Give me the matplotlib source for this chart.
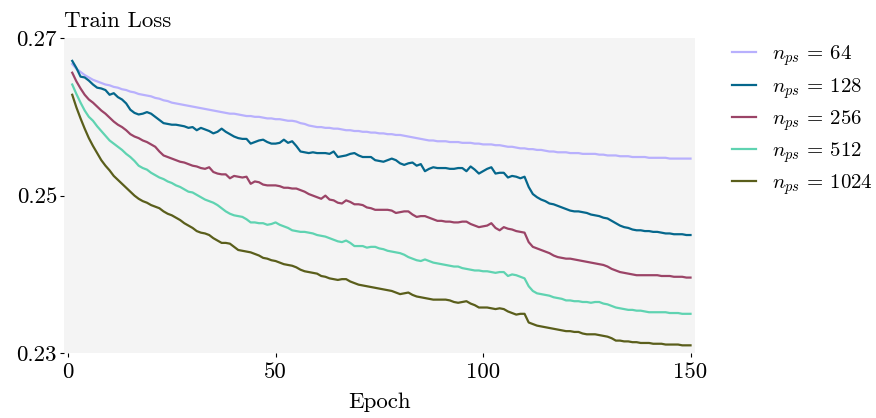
import matplotlib
matplotlib.use("Agg")
import matplotlib.pyplot as plt

plt.rcParams['font.family'] = 'cmr10'
plt.rcParams['mathtext.fontset'] = 'cm'
plt.rcParams['axes.unicode_minus'] = False

epochs = list(range(1, 151))

# train loss per epoch
loss_64 = [
    .2667, .2661, .2657, .2653, .2650, .2647, .2645, .2643, .2641, .2640,
    .2638, .2637, .2635, .2634, .2632, .2631, .2629, .2628, .2627, .2626,
    .2624, .2623, .2621, .2620, .2618, .2617, .2616, .2615, .2614, .2613,
    .2612, .2611, .2610, .2609, .2608, .2607, .2606, .2605, .2604, .2604,
    .2603, .2602, .2601, .2601, .2600, .2600, .2599, .2598, .2598, .2597,
    .2597, .2596, .2595, .2595, .2594, .2592, .2591, .2589, .2588, .2587,
    .2587, .2586, .2586, .2585, .2585, .2584, .2583, .2583, .2582, .2582,
    .2581, .2581, .2580, .2580, .2579, .2579, .2578, .2578, .2577, .2577,
    .2576, .2575, .2574, .2573, .2572, .2571, .2570, .2570, .2569, .2569,
    .2569, .2568, .2568, .2568, .2567, .2567, .2567, .2566, .2566, .2565,
    .2565, .2565, .2564, .2564, .2563, .2562, .2562, .2561, .2560, .2560,
    .2559, .2559, .2558, .2558, .2557, .2556, .2556, .2555, .2555, .2555,
    .2554, .2554, .2554, .2553, .2553, .2553, .2553, .2552, .2552, .2551,
    .2551, .2551, .2550, .2550, .2550, .2549, .2549, .2549, .2549, .2548,
    .2548, .2548, .2548, .2548, .2547, .2547, .2547, .2547, .2547, .2547,
]
loss_128 = [
    .2671, .2662, .2651, .2650, .2646, .2641, .2637, .2636, .2634, .2628,
    .2630, .2625, .2622, .2617, .2609, .2605, .2603, .2604, .2606, .2604,
    .2600, .2596, .2592, .2591, .2590, .2590, .2589, .2588, .2586, .2587,
    .2583, .2586, .2584, .2582, .2579, .2581, .2585, .2581, .2578, .2575,
    .2573, .2572, .2572, .2566, .2568, .2570, .2571, .2568, .2566, .2566,
    .2567, .2571, .2567, .2569, .2563, .2556, .2555, .2554, .2555, .2554,
    .2554, .2554, .2553, .2556, .2549, .2550, .2551, .2553, .2554, .2551,
    .2549, .2549, .2549, .2545, .2544, .2543, .2545, .2547, .2545, .2541,
    .2539, .2541, .2542, .2538, .2540, .2531, .2534, .2536, .2535, .2535,
    .2535, .2534, .2534, .2535, .2535, .2531, .2537, .2533, .2528, .2531,
    .2534, .2536, .2528, .2529, .2529, .2523, .2525, .2524, .2522, .2524,
    .2511, .2502, .2498, .2495, .2493, .2490, .2489, .2487, .2485, .2483,
    .2481, .2480, .2480, .2479, .2478, .2476, .2475, .2474, .2472, .2471,
    .2468, .2465, .2462, .2460, .2459, .2457, .2456, .2456, .2455, .2455,
    .2454, .2454, .2453, .2452, .2452, .2451, .2451, .2451, .2450, .2450,
]
loss_256 = [
    .2656, .2645, .2636, .2628, .2622, .2618, .2613, .2608, .2604, .2599,
    .2594, .2590, .2587, .2583, .2578, .2575, .2573, .2570, .2568, .2565,
    .2562, .2556, .2551, .2549, .2547, .2545, .2543, .2542, .2540, .2538,
    .2537, .2535, .2534, .2536, .2530, .2528, .2527, .2527, .2522, .2525,
    .2524, .2523, .2524, .2515, .2518, .2517, .2514, .2513, .2513, .2513,
    .2512, .2510, .2510, .2509, .2509, .2507, .2505, .2502, .2500, .2498,
    .2496, .2500, .2495, .2494, .2491, .2490, .2494, .2492, .2489, .2489,
    .2488, .2485, .2484, .2482, .2482, .2482, .2482, .2481, .2478, .2479,
    .2480, .2480, .2476, .2473, .2474, .2474, .2472, .2470, .2468, .2468,
    .2467, .2467, .2466, .2466, .2467, .2467, .2464, .2462, .2460, .2461,
    .2462, .2465, .2459, .2456, .2460, .2458, .2457, .2455, .2454, .2453,
    .2441, .2435, .2433, .2431, .2429, .2427, .2424, .2422, .2421, .2420,
    .2420, .2419, .2418, .2417, .2416, .2415, .2414, .2413, .2412, .2410,
    .2407, .2405, .2403, .2402, .2401, .2400, .2399, .2399, .2399, .2399,
    .2399, .2399, .2398, .2398, .2398, .2397, .2397, .2397, .2396, .2396,
]
loss_512 = [
    .2641, .2629, .2618, .2608, .2600, .2595, .2588, .2582, .2576, .2570,
    .2566, .2562, .2558, .2553, .2549, .2544, .2538, .2535, .2533, .2529,
    .2526, .2523, .2521, .2518, .2516, .2513, .2511, .2508, .2505, .2504,
    .2501, .2498, .2495, .2493, .2491, .2488, .2484, .2480, .2477, .2475,
    .2474, .2473, .2470, .2466, .2466, .2465, .2465, .2463, .2464, .2466,
    .2463, .2461, .2459, .2456, .2455, .2454, .2454, .2453, .2452, .2450,
    .2449, .2448, .2446, .2444, .2442, .2441, .2443, .2440, .2436, .2436,
    .2436, .2434, .2435, .2435, .2433, .2432, .2430, .2429, .2428, .2427,
    .2425, .2422, .2420, .2418, .2417, .2419, .2417, .2415, .2414, .2413,
    .2412, .2411, .2410, .2410, .2408, .2407, .2406, .2405, .2405, .2404,
    .2404, .2403, .2402, .2403, .2403, .2398, .2400, .2399, .2397, .2395,
    .2385, .2379, .2376, .2375, .2374, .2373, .2371, .2370, .2369, .2367,
    .2367, .2366, .2366, .2365, .2365, .2364, .2365, .2365, .2363, .2362,
    .2360, .2358, .2357, .2356, .2355, .2355, .2354, .2354, .2353, .2352,
    .2352, .2352, .2352, .2352, .2351, .2351, .2351, .2350, .2350, .2350,
]
loss_1024 = [
    .2628, .2612, .2598, .2585, .2573, .2563, .2554, .2545, .2538, .2532,
    .2525, .2520, .2515, .2510, .2505, .2500, .2496, .2493, .2491, .2488,
    .2486, .2484, .2480, .2477, .2475, .2472, .2469, .2465, .2462, .2459,
    .2455, .2453, .2452, .2450, .2446, .2443, .2440, .2440, .2439, .2435,
    .2431, .2430, .2429, .2428, .2426, .2424, .2421, .2420, .2418, .2417,
    .2415, .2413, .2412, .2411, .2409, .2406, .2404, .2403, .2402, .2401,
    .2398, .2397, .2395, .2394, .2393, .2394, .2394, .2391, .2389, .2387,
    .2386, .2385, .2384, .2383, .2382, .2381, .2380, .2379, .2377, .2375,
    .2376, .2377, .2374, .2372, .2371, .2370, .2369, .2368, .2368, .2368,
    .2368, .2367, .2365, .2364, .2365, .2366, .2363, .2361, .2358, .2358,
    .2358, .2357, .2356, .2357, .2356, .2353, .2351, .2349, .2350, .2350,
    .2339, .2337, .2335, .2334, .2333, .2332, .2331, .2330, .2329, .2328,
    .2328, .2327, .2327, .2325, .2324, .2324, .2324, .2323, .2322, .2321,
    .2319, .2316, .2316, .2315, .2315, .2314, .2314, .2313, .2313, .2313,
    .2312, .2312, .2312, .2311, .2311, .2311, .2311, .2310, .2310, .2310,
]

n_ps = ["64", "128", "256", "512", "1024"]
curves = [loss_64, loss_128, loss_256, loss_512, loss_1024]
colors = ["#b8b0fd", "#05678c", "#9b4467", "#5fd3b1", "#5a5e1b"]

fig = plt.figure(figsize=(8.76, 4.18), dpi=100)
ax = fig.add_axes([0.073, 0.155, 0.72, 0.754])
ax.set_facecolor("#f4f4f4")

for n, y, c in zip(n_ps, curves, colors):
    ax.plot(epochs, y, color=c, lw=1.6, label=r"$n_{ps}\,=\,%s$" % n)

for s in ax.spines.values():
    s.set_visible(False)

ax.set_xlim(-1, 151)
ax.set_ylim(0.23, 0.27)
ax.set_xticks([0, 50, 100, 150])
ax.set_yticks([0.23, 0.25, 0.27])
ax.set_yticklabels(["0.23", "0.25", "0.27"])
ax.tick_params(labelsize=16.5, length=3, width=0.8)
ax.tick_params(axis="x", pad=4)
ax.tick_params(axis="y", pad=2)
ax.set_xlabel("Epoch", fontsize=16.5, labelpad=7)
ax.set_title("Train Loss", loc="left", fontsize=16.5, pad=8)

ax.legend(loc="upper left", bbox_to_anchor=(1.029, 1.042), frameon=False,
          fontsize=15, handlelength=1.15, handletextpad=0.77, labelspacing=0.36)

fig.savefig("out.png", dpi=100)
